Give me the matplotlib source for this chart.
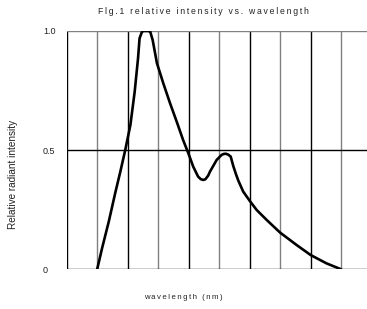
import numpy as np
import matplotlib
matplotlib.use('Agg')
import matplotlib.pyplot as plt

plt.rcParams['font.family'] = ['Liberation Sans', 'DejaVu Sans']

# curve (x in grid-division units)
x_pos = [1.0, 1.16, 1.38, 1.59, 1.76, 1.92, 2.09, 2.23, 2.34, 2.39, 2.47, 2.53, 2.60,
         2.67, 2.74, 2.82, 2.96, 3.17, 3.39, 3.61, 3.82, 3.99, 4.15, 4.31, 4.40, 4.48,
         4.55, 4.64, 4.70, 4.92, 5.08, 5.15, 5.22, 5.30, 5.38, 5.46, 5.55, 5.63, 5.79, 6.0,
         6.23, 6.56, 7.0, 7.54, 8.0, 8.52, 9.0]
intensity = [0, 0.088, 0.20, 0.319, 0.41, 0.50, 0.606, 0.745, 0.885, 0.969, 0.997, 1.0, 1.0,
             1.0, 0.997, 0.962, 0.865, 0.78, 0.697, 0.619, 0.542, 0.487, 0.431, 0.389, 0.378, 0.375,
             0.378, 0.393, 0.41, 0.459, 0.48, 0.484, 0.485, 0.481, 0.473, 0.435, 0.40, 0.372, 0.326, 0.288,
             0.249, 0.207, 0.154, 0.102, 0.06, 0.025, 0]

grid_x = list(range(10))
grid_colors = ['black', '#808080'] * 5
ytick_vals = [0, 0.5, 1.0]
ytick_labels = ['0', '0.5', '1.0']
hline_colors = ['black', 'black', '#808080']

fig = plt.figure(figsize=(3.67, 3.09), dpi=100)
ax = fig.add_axes([0.1817, 0.1285, 0.8183, 0.7712])

for gx, c in zip(grid_x, grid_colors):
    ax.axvline(gx, color=c, lw=1.0, zorder=1)
for hy, c in zip(ytick_vals, hline_colors):
    ax.axhline(hy, color=c, lw=1.0, zorder=1)

ax.plot(x_pos, intensity, color='black', lw=1.9, solid_joinstyle='round',
        solid_capstyle='round', zorder=3)

ax.set_xlim(0, 9.85)
ax.set_ylim(0, 1.0)
for s in ax.spines.values():
    s.set_visible(False)
ax.set_xticks([])
ax.set_yticks(ytick_vals)
ax.set_yticklabels(ytick_labels, fontsize=6.5, color='#222222')
ax.tick_params(axis='y', length=0, pad=17)
for lab in ax.get_yticklabels():
    lab.set_ha('left')

def spaced(s):
    return '\u2009'.join(s)

fig.text(0.553, 0.962, spaced('Flg.1 relative intensity vs. wavelength'), ha='center', va='center',
         fontsize=6.2, color='#222222')
fig.text(0.5, 0.036, spaced('wavelength (nm)'), ha='center', va='center', fontsize=5.6, color='#222222')
fig.text(0.036, 0.435, 'Relative radiant intensity', rotation=90, ha='center', va='center',
         fontsize=7.2, color='#222222')

fig.savefig('out.png', dpi=100)
